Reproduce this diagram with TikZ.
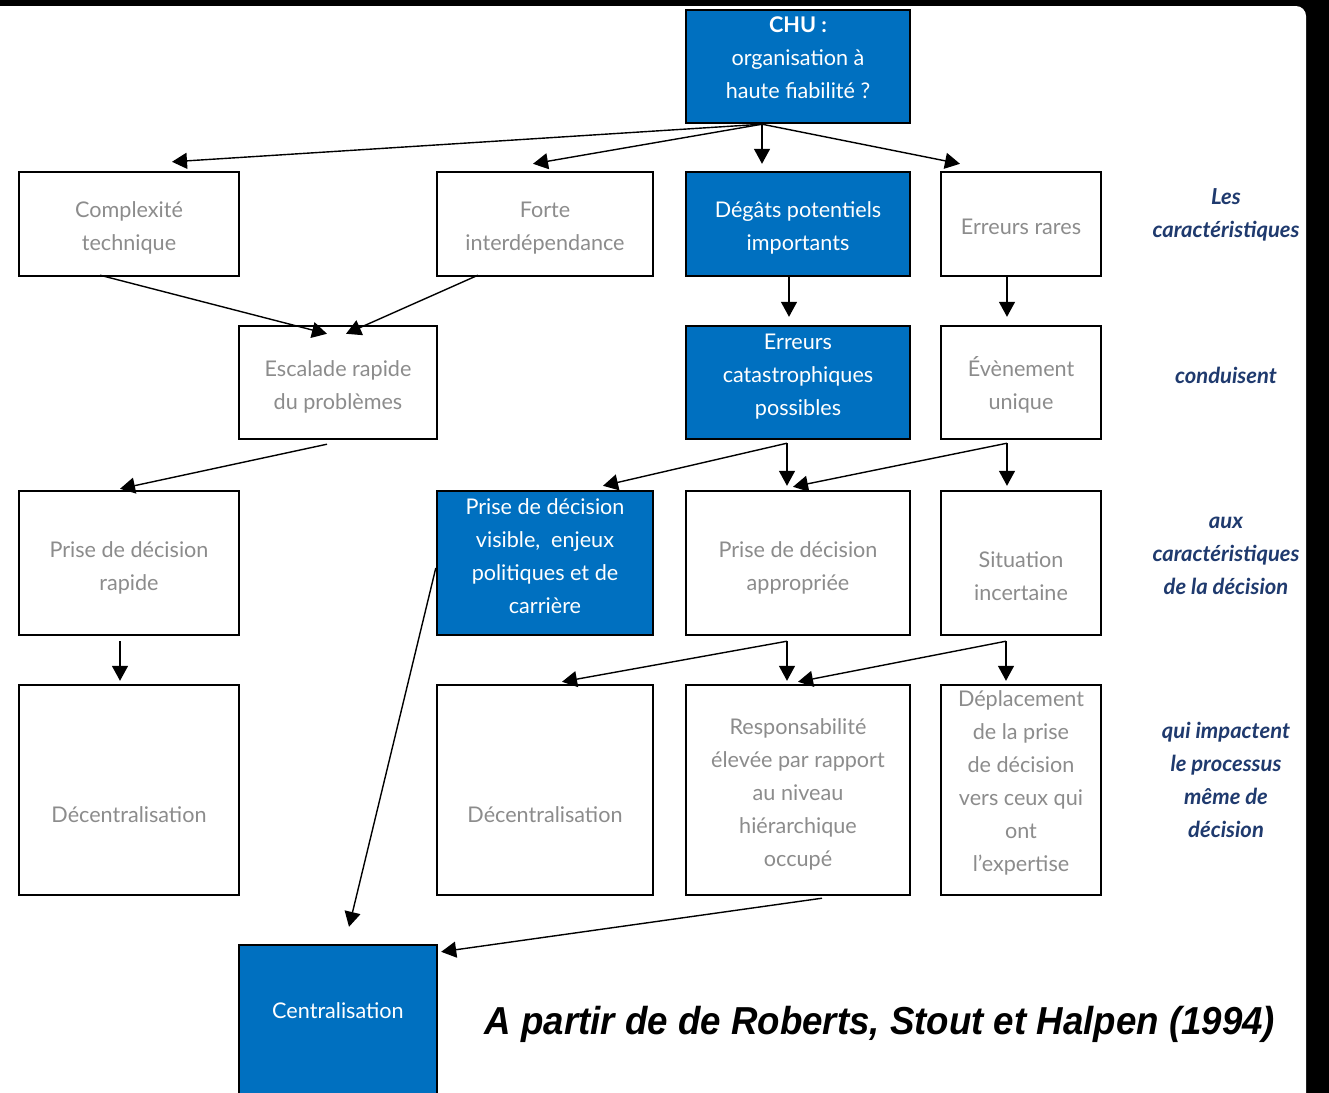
\documentclass[tikz,border=0pt]{standalone}
\usepackage{fontspec}
\setmainfont{Lato}
\newfontfamily\citefont{Liberation Sans}
\usetikzlibrary{arrows.meta,calc}
\definecolor{boxblue}{HTML}{0070C0}
\definecolor{txtgray}{HTML}{8C8C8C}
\definecolor{navy}{HTML}{1F3A6E}
\newcommand\boxtext[2][0pt]{\raisebox{#1}[\height][\depth]{\begin{tabular}{@{}c@{}}#2\end{tabular}}}
\begin{document}
\begin{tikzpicture}[x=0.5pt,y=-0.5pt,
  corners/.style args={#1/#2/#3/#4}{at={({(#1+#3)/2},{(#2+#4)/2})}, anchor=center,
     minimum width={(#3-#1)*0.5pt}, minimum height={(#4-#2)*0.5pt}},
  box/.style={draw=black, line width=1.2pt, inner sep=0pt, fill=white, text=txtgray, font=\fontsize{10.8}{16.5}\selectfont},
  bluebox/.style={box, fill=boxblue, text=white},
  conn/.style={-{Triangle[length=7.5pt,width=8pt]}, line width=0.7pt},
  side/.style={text=navy, font=\fontsize{11}{16.5}\selectfont\bfseries\itshape, align=center}]
\useasboundingbox (0,0) rectangle (1329,1093);
\clip (0,0) rectangle (1329,1093);
\fill[black] (0,0) rectangle (1329,1093);
\fill[white, rounded corners=5pt] (-30,6) rectangle (1306,1130);

% row 0
\node[bluebox, corners=686/10/910/123] (chu) {\boxtext[3.75pt]{\textbf{CHU :}\\organisation à\\haute fiabilité ?}};
% row 1
\node[box, corners=19/172/239/276] (cplx) {\boxtext[-1.5pt]{Complexité\\technique}};
\node[box, corners=437/172/653/276] (forte) {\boxtext[-1.5pt]{Forte\\interdépendance}};
\node[bluebox, corners=686/172/910/276] (degats) {\boxtext[-1.5pt]{Dégâts potentiels\\importants}};
\node[box, corners=941/172/1101/276] (rares) {\boxtext[-2pt]{Erreurs rares}};
% row 2
\node[box, corners=239/326/437/439] (escal) {\boxtext[-1.75pt]{Escalade rapide\\du problèmes}};
\node[bluebox, corners=686/326/910/439] (catas) {\boxtext[3.25pt]{Erreurs\\catastrophiques\\possibles}};
\node[box, corners=941/326/1101/439] (evt) {\boxtext[-1.75pt]{Évènement\\unique}};
% row 3
\node[box, corners=19/491/239/635] (rapide) {\boxtext[-2pt]{Prise de décision\\rapide}};
\node[bluebox, corners=437/491/653/635] (visible) {\boxtext[3pt]{Prise de décision\\visible,\enspace enjeux\\politiques et de\\carrière}};
\node[box, corners=686/491/910/635] (approp) {\boxtext[-2pt]{Prise de décision\\appropriée}};
\node[box, corners=941/491/1101/635] (incert) {\boxtext[-7pt]{Situation\\incertaine}};
% row 4
\node[box, corners=19/685/239/895] (dec1) {\boxtext[-13pt]{Décentralisation}};
\node[box, corners=437/685/653/895] (dec2) {\boxtext[-13pt]{Décentralisation}};
\node[box, corners=686/685/910/895] (resp) {\boxtext[-1.75pt]{Responsabilité\\élevée par rapport\\au niveau\\hiérarchique\\occupé}};
\node[box, corners=941/685/1101/895] (depl) {\boxtext[3.75pt]{Déplacement\\de la prise\\de décision\\vers ceux qui\\ont\\l’expertise}};
% row 5
\node[bluebox, corners=239/945/437/1110] (central) {\boxtext[8pt]{Centralisation}};

% side labels
\node[side] (s1) at (1226,214.5) {Les\\caractéristiques};
\node[side] (s2) at (1226,375) {conduisent};
\node[side] (s3) at (1226,556) {aux\\caractéristiques\\de la décision};
\node[side] (s4) at (1226,780) {qui impactent\\le processus\\même de\\décision};

% citation
\node[font={\citefont\fontsize{19.5}{22}\selectfont\bfseries\itshape}] (cite) at (880,1024) {\scalebox{0.94}[1]{A partir de de Roberts, Stout et Halpen (1994)}};

% connectors
\coordinate (chuO) at ($(chu.south)+(-36,0)$);
\draw[conn] (chuO) -- ($(cplx.north)+(43,-9)$);
\draw[conn] (chuO) -- ($(forte.north)+(-12,-7)$);
\draw[conn] (chuO) -- ($(degats.north)+(-36,-7)$);
\draw[conn] (chuO) -- ($(rares.north)+(-61,-7)$);

\draw[conn] ($(cplx.south)+(-29,-2)$) -- ($(escal.north)+(-11,9)$);
\draw[conn] ($(forte.south)+(-67,-2)$) -- ($(escal.north)+(8,9)$);
\draw[conn] ($(degats.south)+(-9,0)$) -- ($(catas.north)+(-9,-8)$);
\draw[conn] ($(rares.south)+(-14,0)$) -- ($(evt.north)+(-14,-8)$);

\draw[conn] ($(escal.south)+(-11,4)$) -- ($(rapide.north)+(-9,-1)$);
\coordinate (catasO) at ($(catas.south)+(-11,3)$);
\draw[conn] (catasO) -- ($(visible.north)+(58,-4)$);
\draw[conn] (catasO) -- ($(approp.north)+(-11,-4)$);
\coordinate (evtO) at ($(evt.south)+(-14,3)$);
\draw[conn] (evtO) -- ($(approp.north)+(-5,-3)$);
\draw[conn] (evtO) -- ($(incert.north)+(-14,-4)$);

\draw[conn] ($(rapide.south)+(-9,5)$) -- ($(dec1.north)+(-9,-3)$);
\coordinate (appO) at ($(approp.south)+(-11,5)$);
\draw[conn] (appO) -- ($(dec2.north)+(17,-2)$);
\draw[conn] (appO) -- ($(resp.north)+(-11,-3)$);
\coordinate (incO) at ($(incert.south)+(-15,5)$);
\draw[conn] (incO) -- ($(resp.north)+(0,-2)$);
\draw[conn] (incO) -- ($(depl.north)+(-15,-3)$);

\draw[conn] ($(visible.west)+(0,5)$) -- ($(central.north)+(11,-17)$);
\draw[conn] ($(resp.south)+(24,2)$) -- ($(central.north east)+(3,8)$);
\end{tikzpicture}
\end{document}
